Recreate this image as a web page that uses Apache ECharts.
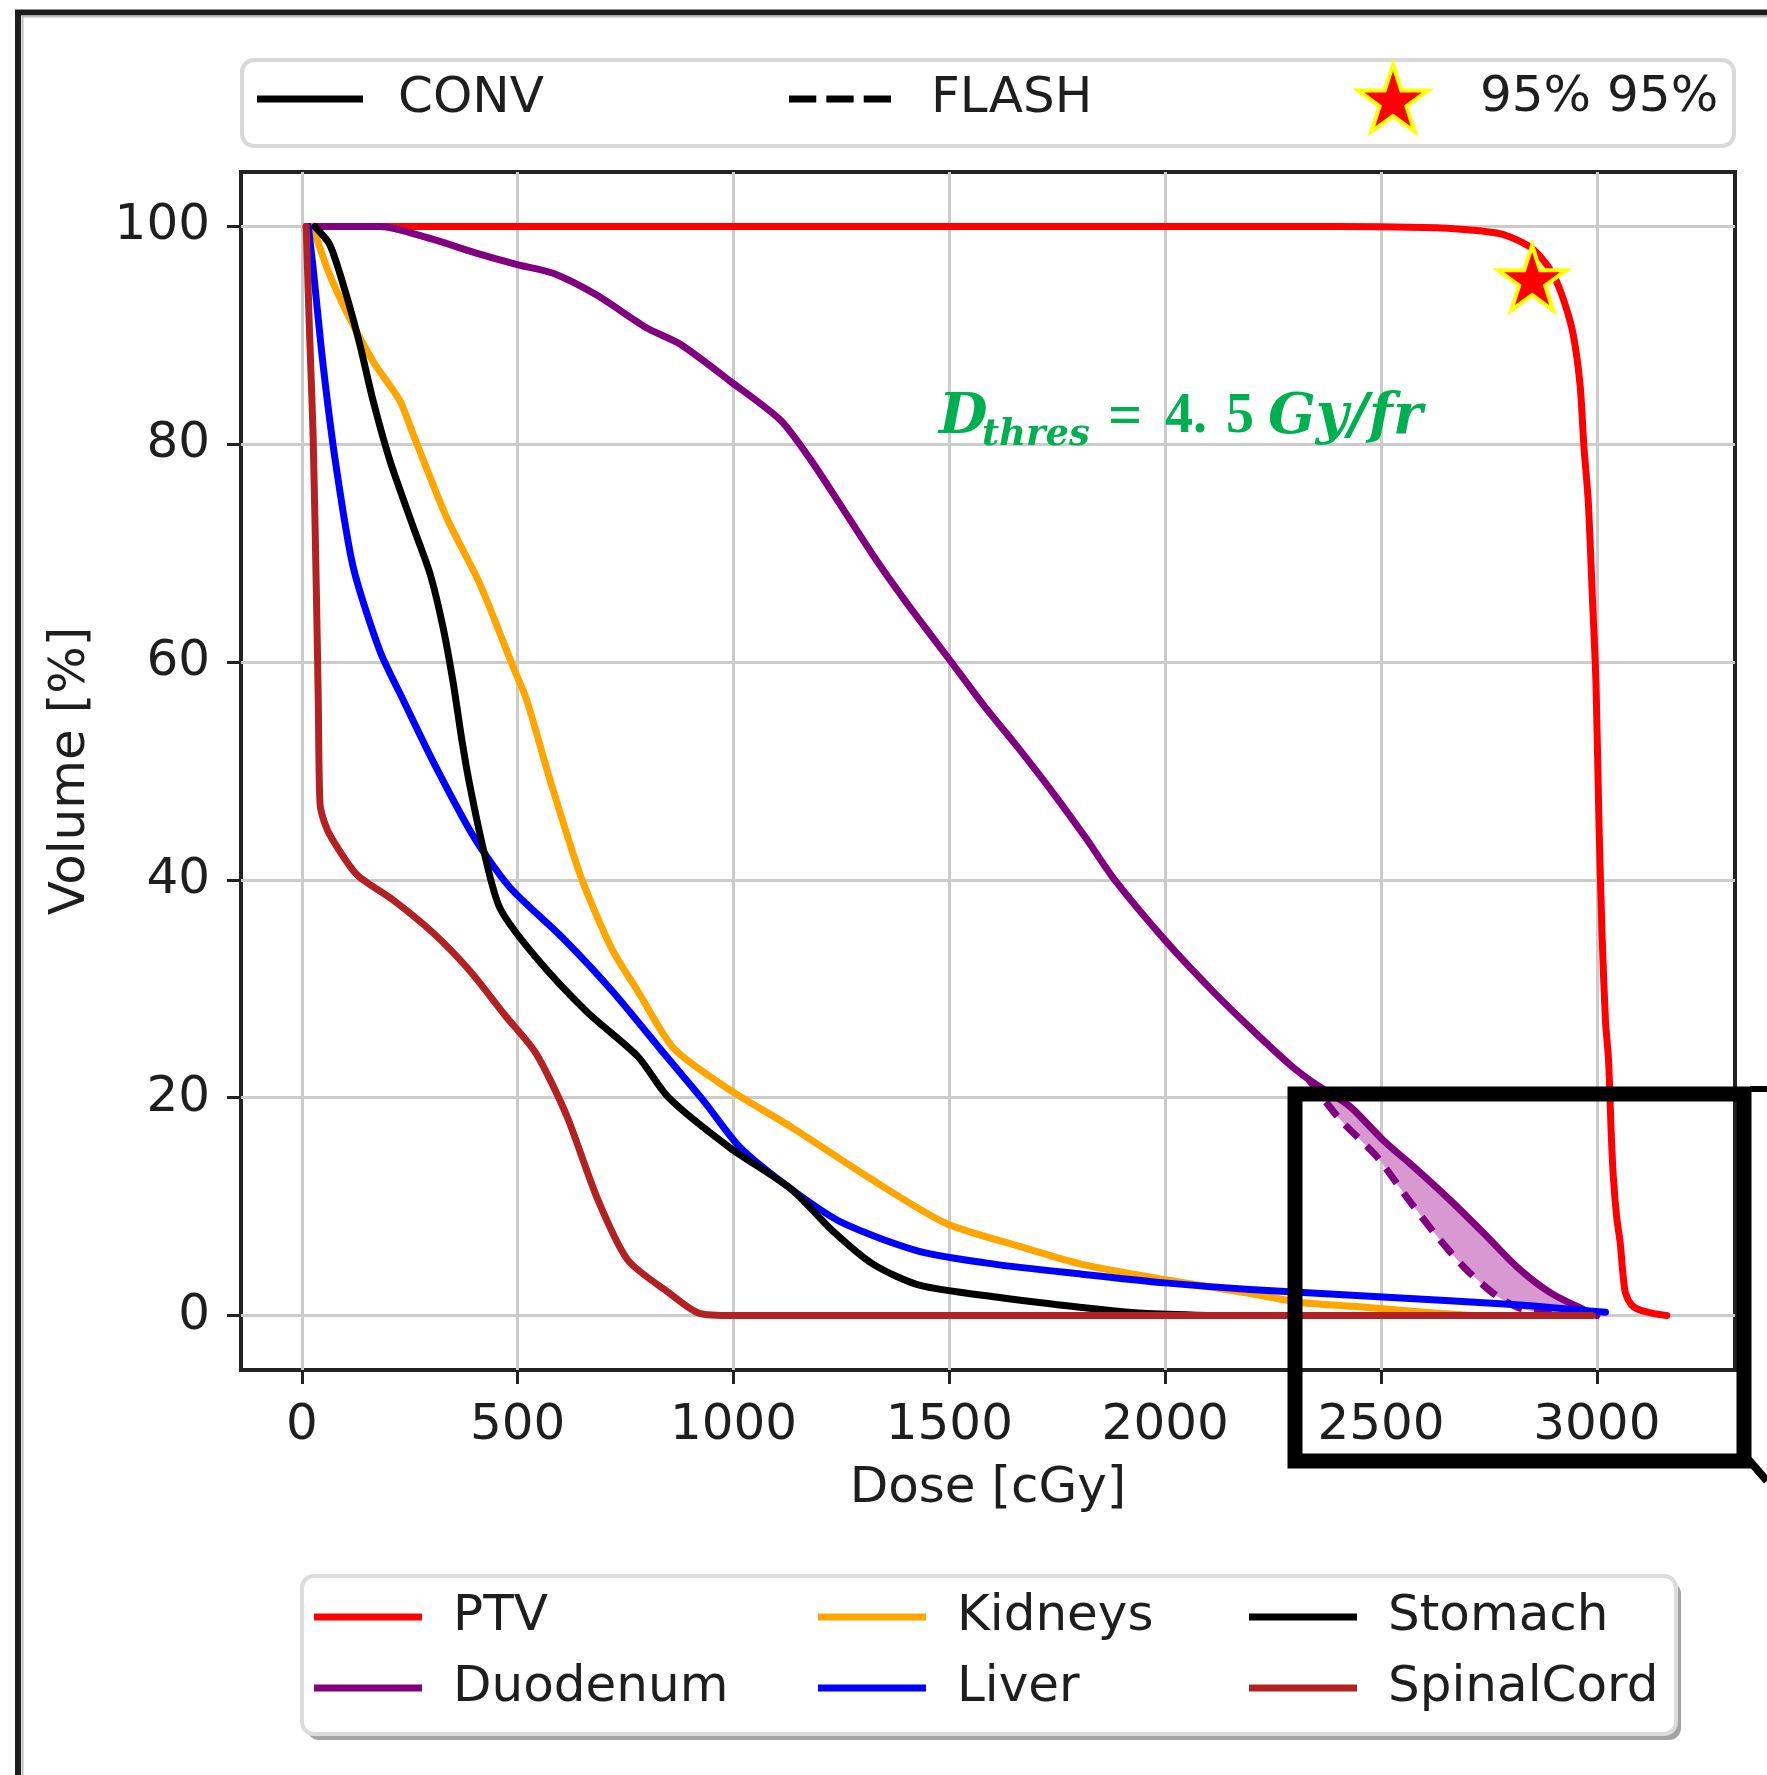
<!DOCTYPE html>
<html>
<head>
<meta charset="utf-8">
<script src="https://cdn.jsdelivr.net/npm/echarts@6/dist/echarts.min.js"></script>
<style>
  html, body { margin: 0; padding: 0; background: #ffffff; }
  #chart { width: 1767px; height: 1775px; }
</style>
</head>
<body>
<div id="chart"></div>
<script>
// Dose-volume histograms, dose in cGy, volume in %
const ptvDose = [10, 500, 1000, 1500, 2000, 2400, 2600, 2700, 2780, 2838, 2870, 2900, 2925, 2945, 2961, 2970, 2980, 2990, 2998, 3005, 3012, 3020, 3027, 3033, 3038, 3046, 3054, 3060, 3066, 3080, 3100, 3130, 3162];
const ptvVolume = [100, 100, 100, 100, 100, 100, 99.9, 99.7, 99.3, 98.3, 97.2, 95.5, 93.0, 90.1, 85.5, 79.8, 74.8, 65.6, 58.0, 45.0, 35.0, 27.0, 23.5, 17.0, 12.8, 9.0, 6.7, 4.0, 2.1, 1.0, 0.5, 0.2, 0];

const duodenumDose = [10, 60, 181, 297, 400, 499, 582, 683, 798, 876, 992, 1109, 1180, 1240, 1320, 1398, 1497, 1580, 1660, 1740, 1817, 1883, 2001, 2105, 2200, 2290, 2350, 2428, 2505, 2583, 2660, 2737, 2814, 2892, 2969, 3000];
const duodenumVolume = [100, 100, 100, 98.9, 97.6, 96.5, 95.7, 93.7, 90.7, 89.2, 85.8, 82.2, 78.5, 74.9, 70.0, 65.6, 60.4, 56.0, 52.1, 48.0, 43.8, 40.0, 34.4, 30.0, 26.3, 23.0, 21.2, 19.2, 16.1, 13.4, 10.6, 7.6, 4.5, 2.1, 0.55, 0];

// FLASH duodenum curve, where it departs from the conventional one
const duodenumFlashDose = [2330, 2405, 2490, 2559, 2629, 2698, 2768, 2820, 2880, 2950];
const duodenumFlashVolume = [21.8, 18.0, 14.6, 10.9, 7.3, 4.2, 1.8, 0.7, 0.2, 0];

const kidneysDose = [25, 60, 103, 165, 227, 258, 335, 412, 490, 521, 577, 648, 719, 778, 862, 992, 1134, 1312, 1490, 1667, 1807, 2001, 2200, 2315, 2450, 2600, 2710];
const kidneysVolume = [100, 96, 92.2, 87.6, 84.0, 80.9, 73.3, 67.2, 59.5, 56.5, 48.9, 40.1, 33.6, 29.8, 24.5, 20.7, 17.3, 12.7, 8.5, 6.3, 4.7, 3.3, 2.0, 1.2, 0.8, 0.3, 0];

const liverDose = [15, 26, 50, 80, 119, 181, 235, 305, 399, 482, 601, 719, 838, 933, 1016, 1134, 1253, 1430, 1608, 1807, 2000, 2196, 2505, 2814, 3020];
const liverVolume = [100, 96.2, 87.0, 77.8, 68.7, 61.0, 56.5, 50.8, 43.9, 39.3, 34.8, 29.8, 24.1, 19.6, 15.4, 11.6, 8.5, 5.9, 4.7, 3.8, 3.0, 2.4, 1.7, 1.0, 0.3];

const stomachDose = [30, 65, 103, 134, 165, 204, 258, 297, 327, 351, 370, 388, 423, 459, 542, 660, 778, 850, 992, 1134, 1229, 1324, 1430, 1608, 1807, 1950, 2100];
const stomachVolume = [100, 98.3, 93.7, 89.2, 84.0, 78.5, 72.4, 68.1, 63.2, 58.0, 53.0, 48.9, 42.4, 37.4, 32.9, 27.9, 23.8, 20.0, 15.4, 11.6, 7.8, 4.7, 2.8, 1.7, 0.74, 0.2, 0];

const spinalDose = [10, 18, 26, 34, 38, 42, 52, 68, 127, 210, 305, 388, 470, 542, 613, 684, 755, 850, 921, 1000, 2990];
const spinalVolume = [100, 90, 80.9, 65.6, 56.5, 47.0, 45.3, 43.9, 40.5, 38.2, 35.1, 31.7, 27.6, 24.1, 18.4, 10.8, 5.1, 2.1, 0.2, 0, 0];

// D95 constraint marker: 95 % of the volume receiving 95 % of 3000 cGy
const starPoint = [2850, 95];

const xTicks = [0, 500, 1000, 1500, 2000, 2500, 3000];
const yTicks = [0, 20, 40, 60, 80, 100];

const FONT = "'DejaVu Sans', sans-serif";
const TXT = '#1e1e1e';

function pairs(xs, ys) { return xs.map((x, i) => [x, ys[i]]); }

// five-pointed star outline
function starPath() {
  const pts = [];
  for (let k = 0; k < 10; k++) {
    const r = k % 2 === 0 ? 50 : 19.1;
    const a = (-90 + 36 * k) * Math.PI / 180;
    pts.push((50 + r * Math.cos(a)).toFixed(2) + ',' + (50 + r * Math.sin(a)).toFixed(2));
  }
  return 'path://M' + pts.join(' L') + ' Z';
}
const STAR = starPath();
const DASH = 'path://M0,0H27V10H0Z M37,0H64V10H37Z M74,0H101V10H74Z';

function organ(name, color, xs, ys, z) {
  return {
    name, type: 'line', data: pairs(xs, ys), color,
    showSymbol: false, symbol: 'none', smooth: 0.25,
    lineStyle: { color, width: 7, cap: 'round', join: 'round' }, z, silent: true, animation: false,
    emphasis: { disabled: true }
  };
}

const convTail = pairs(duodenumDose, duodenumVolume).filter(p => p[0] > duodenumFlashDose[0]);
const flashTail = pairs(duodenumFlashDose, duodenumFlashVolume);

const series = [
  { name: 'CONV', type: 'line', data: [], color: '#000000', lineStyle: { width: 6 }, showSymbol: false },
  { name: 'FLASH', type: 'line', data: [], color: '#000000', lineStyle: { width: 6, type: 'dashed' }, showSymbol: false },
  organ('PTV', '#ff0000', ptvDose, ptvVolume, 3),
  {
    name: 'Duodenum gain', type: 'custom', silent: true, z: 3.5, animation: false,
    data: [[2600, 10]],
    renderItem: function (params, api) {
      const pts = [api.coord(flashTail[0])]
        .concat(convTail.map(p => api.coord(p)))
        .concat(flashTail.slice().reverse().map(p => api.coord(p)));
      return { type: 'polygon', shape: { points: pts, smooth: 0.2 }, style: { fill: '#d898d0' } };
    }
  },
  organ('Duodenum', '#800080', duodenumDose, duodenumVolume, 4),
  Object.assign(organ('Duodenum FLASH', '#800080', duodenumFlashDose, duodenumFlashVolume, 4),
    { lineStyle: { color: '#800080', width: 7, type: [18, 12] } }),
  organ('Kidneys', '#ffa500', kidneysDose, kidneysVolume, 5),
  organ('Liver', '#0000ff', liverDose, liverVolume, 6),
  organ('Stomach', '#000000', stomachDose, stomachVolume, 7),
  organ('SpinalCord', '#b22222', spinalDose, spinalVolume, 8),
  {
    name: '95% 95%', type: 'scatter', data: [starPoint], z: 20, silent: true,
    symbol: STAR, symbolSize: [68, 65], symbolOffset: [0, -3],
    itemStyle: { color: '#ff0000', borderColor: '#ffff00', borderWidth: 4, opacity: 1 }
  }
];

const legendText = (pad) => ({ fontSize: 50, fontFamily: FONT, color: TXT, lineHeight: 60, padding: [0, 0, 0, pad] });
function lineLegend(names, left, top, pad) {
  return {
    data: names, left, top, orient: 'vertical', padding: 0, itemGap: 11,
    icon: 'rect', itemWidth: 108, itemHeight: 7, selectedMode: false,
    itemStyle: { borderWidth: 0 }, textStyle: legendText(pad)
  };
}

const plainNumber = v => String(v);

const option = {
  animation: false,
  backgroundColor: '#ffffff',
  grid: { left: 241, top: 172, right: 32, bottom: 405, show: true, borderColor: '#222222', borderWidth: 4, containLabel: false },
  xAxis: {
    type: 'value', min: -141, max: 3320, splitNumber: 7,
    axisLine: { show: false, onZero: false },
    axisTick: { show: true, customValues: xTicks, length: 14, lineStyle: { color: '#222222', width: 3 } },
    axisLabel: { customValues: xTicks, formatter: plainNumber, fontSize: 50, fontFamily: FONT, color: TXT, margin: 31 },
    splitLine: { show: true, lineStyle: { color: '#cbcbcb', width: 3 } },
    name: 'Dose [cGy]', nameLocation: 'middle', nameGap: 94,
    nameTextStyle: { fontSize: 50, fontFamily: FONT, color: TXT }
  },
  yAxis: {
    type: 'value', min: -5, max: 105, splitNumber: 5,
    axisLine: { show: false, onZero: false },
    axisTick: { show: true, customValues: yTicks, length: 14, lineStyle: { color: '#222222', width: 3 } },
    axisLabel: { customValues: yTicks, formatter: plainNumber, fontSize: 50, fontFamily: FONT, color: TXT, margin: 31 },
    splitLine: { show: true, lineStyle: { color: '#cbcbcb', width: 3 } },
    name: 'Volume [%]', nameLocation: 'middle', nameGap: 145,
    nameTextStyle: { fontSize: 50, fontFamily: FONT, color: TXT }
  },
  legend: [
    { data: ['CONV'], left: 257, top: 69, padding: 0, icon: 'rect', itemWidth: 106, itemHeight: 7,
      selectedMode: false, itemStyle: { borderWidth: 0 }, textStyle: legendText(30) },
    { data: [{ name: 'FLASH', icon: DASH }], left: 789, top: 69, padding: 0, itemWidth: 102, itemHeight: 7,
      symbolKeepAspect: false, selectedMode: false, itemStyle: { borderWidth: 0 }, textStyle: legendText(35) },
    { data: [{ name: '95% 95%', icon: STAR, itemStyle: { color: '#ff0000', borderColor: '#ffff00', borderWidth: 4 } }],
      left: 1356, top: 63, padding: 0, itemWidth: 70, itemHeight: 72, selectedMode: false, textStyle: legendText(47) },
    lineLegend(['PTV', 'Duodenum'], 314, 1587, 26),
    lineLegend(['Kidneys', 'Liver'], 818, 1587, 26),
    lineLegend(['Stomach', 'SpinalCord'], 1249, 1587, 26)
  ],
  graphic: [
    // figure frame
    { type: 'polyline', shape: { points: [[18, 1775], [18, 12.5], [1767, 12.5]] }, style: { stroke: '#1e1e1e', lineWidth: 6, fill: null }, z: 50, silent: true },
    { type: 'polyline', shape: { points: [[22.5, 1775], [22.5, 16.5], [1767, 16.5]] }, style: { stroke: '#bdbdbd', lineWidth: 2, fill: null }, z: 50, silent: true },
    // legend frames
    { type: 'rect', shape: { x: 242, y: 60, width: 1492, height: 86, r: 12 }, style: { fill: '#ffffff', stroke: '#d9d9d9', lineWidth: 4 }, z: 1, silent: true },
    { type: 'rect', shape: { x: 307, y: 1582, width: 1374, height: 158, r: 12 }, style: { fill: '#a3a3a3' }, z: 1, silent: true },
    { type: 'rect', shape: { x: 302, y: 1576, width: 1374, height: 158, r: 12 }, style: { fill: '#ffffff', stroke: '#dcdcdc', lineWidth: 4 }, z: 1.5, silent: true },
    // threshold annotation
    { type: 'text', x: 939, y: 418, z: 30, silent: true,
      style: { text: 'D', font: 'italic bold 56px "DejaVu Serif"', fill: '#00b050', verticalAlign: 'middle' } },
    { type: 'text', x: 982, y: 435, z: 30, silent: true,
      style: { text: 'thres', font: 'italic bold 37px "DejaVu Serif"', fill: '#00b050', verticalAlign: 'middle' } },
    { type: 'text', x: 1108, y: 418, z: 30, silent: true,
      style: { text: '=', font: 'bold 60px "Liberation Serif"', fill: '#00b050', verticalAlign: 'middle' } },
    { type: 'text', x: 1165, y: 418, z: 30, silent: true,
      style: { text: '4.', font: 'bold 56px "Liberation Serif"', fill: '#00b050', verticalAlign: 'middle' } },
    { type: 'text', x: 1226, y: 418, z: 30, silent: true,
      style: { text: '5', font: 'bold 56px "Liberation Serif"', fill: '#00b050', verticalAlign: 'middle' } },
    { type: 'text', x: 1268, y: 418, z: 30, silent: true,
      style: { text: 'Gy/fr', font: 'italic bold 56px "DejaVu Serif"', fill: '#00b050', verticalAlign: 'middle' } },
    // zoom window outline and its connector stubs
    { type: 'rect', shape: { x: 1295, y: 1094, width: 449, height: 367 }, style: { fill: null, stroke: '#000000', lineWidth: 15 }, z: 40, silent: true },
    { type: 'line', shape: { x1: 1750, y1: 1089, x2: 1767, y2: 1089 }, style: { stroke: '#000000', lineWidth: 6 }, z: 40, silent: true },
    { type: 'line', shape: { x1: 1748, y1: 1459, x2: 1767, y2: 1481 }, style: { stroke: '#000000', lineWidth: 8 }, z: 40, silent: true }
  ],
  series
};

const chart = echarts.init(document.getElementById('chart'), null, { renderer: 'canvas', width: 1767, height: 1775 });
chart.setOption(option);
</script>
</body>
</html>
